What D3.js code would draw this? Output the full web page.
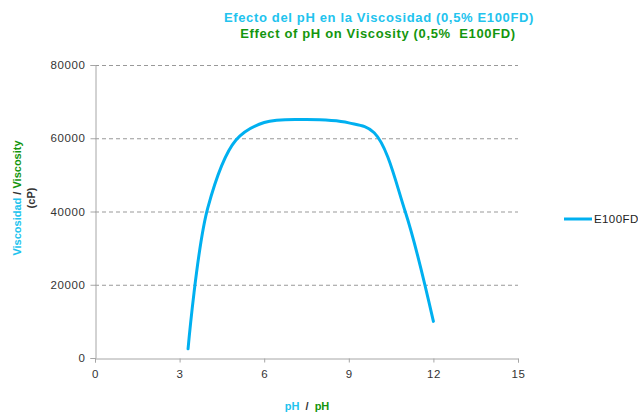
<!DOCTYPE html>
<html><head><meta charset="utf-8">
<script src="https://cdn.jsdelivr.net/npm/d3@7"></script>
<style>body{margin:0;background:#fff}svg{display:block;font-family:"Liberation Sans",Arial,sans-serif}</style>
</head><body><svg id="c" width="638" height="412"></svg>
<script>
const phValues = [3.3, 4, 5, 6, 7.5, 9, 9.9, 11, 12];
const viscosity = [2500, 41000, 59500, 64300, 65100, 64200, 61500, 40000, 10000];
const xTicks = [0, 3, 6, 9, 12, 15];
const yTicks = [0, 20000, 40000, 60000, 80000];
const seriesName = "E100FD";

const svg = d3.select("#c");
const L = 95, R = 518, T = 65, B = 358;
const x = d3.scaleLinear().domain([0, 15]).range([L, R]);
const y = d3.scaleLinear().domain([0, 80000]).range([B, T]);
const cyan = "#22c3ee", green = "#14960e", lineC = "#00b0f0";

// grid
svg.append("g").selectAll("line").data(yTicks.filter(d => d > 0)).join("line")
  .attr("x1", L).attr("x2", R).attr("y1", d => y(d) + 0.5).attr("y2", d => y(d) + 0.5)
  .attr("stroke", "#999").attr("stroke-dasharray", "4,3").attr("stroke-width", 1);

const yAxis = svg.append("g").attr("transform", `translate(${L + 0.5},0)`)
  .call(d3.axisLeft(y).tickValues(yTicks).tickSize(5).tickPadding(5).tickFormat(d3.format("d")));
const xAxis = svg.append("g").attr("transform", `translate(0,${B + 0.5})`)
  .call(d3.axisBottom(x).tickValues(xTicks).tickSize(4).tickPadding(7));
[yAxis, xAxis].forEach(a => {
  a.select(".domain").attr("stroke", "#a6a6a6");
  a.selectAll(".tick line").attr("stroke", "#a6a6a6");
  a.selectAll("text").attr("fill", "#333").style("font-size", "11.5px").style("letter-spacing", "0.6px")
    .style("font-family", "Liberation Sans, Arial, sans-serif");
});

const pts = phValues.map((p, i) => [p, viscosity[i]]);
svg.append("path").datum(pts)
  .attr("d", d3.line().x(d => x(d[0])).y(d => y(d[1])).curve(d3.curveCatmullRom.alpha(0.5)))
  .attr("fill", "none").attr("stroke", lineC).attr("stroke-width", 3).attr("stroke-linecap", "round");

// titles
svg.append("text").attr("x", 379).attr("y", 22).attr("text-anchor", "middle")
  .attr("font-size", 13).attr("letter-spacing", "0.65px").attr("font-weight", "bold").attr("fill", cyan)
  .text("Efecto del pH en la Viscosidad (0,5% E100FD)");
svg.append("text").attr("x", 378).attr("y", 38).attr("text-anchor", "middle")
  .attr("font-size", 13).attr("letter-spacing", "0.65px").attr("font-weight", "bold").attr("fill", green)
  .attr("xml:space", "preserve").style("white-space", "pre")
  .text("Effect of pH on Viscosity (0,5%  E100FD)");

// y label
const yl = svg.append("text").attr("transform", "translate(21,198) rotate(-90)")
  .attr("text-anchor", "middle").attr("font-size", 11).attr("font-weight", "bold");
yl.append("tspan").attr("fill", cyan).text("Viscosidad");
yl.append("tspan").attr("fill", "#333").text(" / ");
yl.append("tspan").attr("fill", green).text("Viscosity");
svg.append("text").attr("transform", "translate(35,198) rotate(-90)")
  .attr("text-anchor", "middle").attr("font-size", 11).attr("font-weight", "bold").attr("fill", "#333").text("(cP)");

// x label
const xl = svg.append("text").attr("x", 307).attr("y", 410).attr("text-anchor", "middle")
  .attr("font-size", 11).attr("font-weight", "bold").style("white-space", "pre");
xl.append("tspan").attr("fill", cyan).text("pH");
xl.append("tspan").attr("fill", "#333").text("\u00a0\u00a0/\u00a0\u00a0");
xl.append("tspan").attr("fill", green).text("pH");

// legend
svg.append("line").attr("x1", 564).attr("x2", 592).attr("y1", 219).attr("y2", 219)
  .attr("stroke", lineC).attr("stroke-width", 3);
svg.append("text").attr("x", 594).attr("y", 223).attr("font-size", 11.5).attr("letter-spacing", "0.4px")
  .attr("fill", "#222").text(seriesName);
</script></body></html>
